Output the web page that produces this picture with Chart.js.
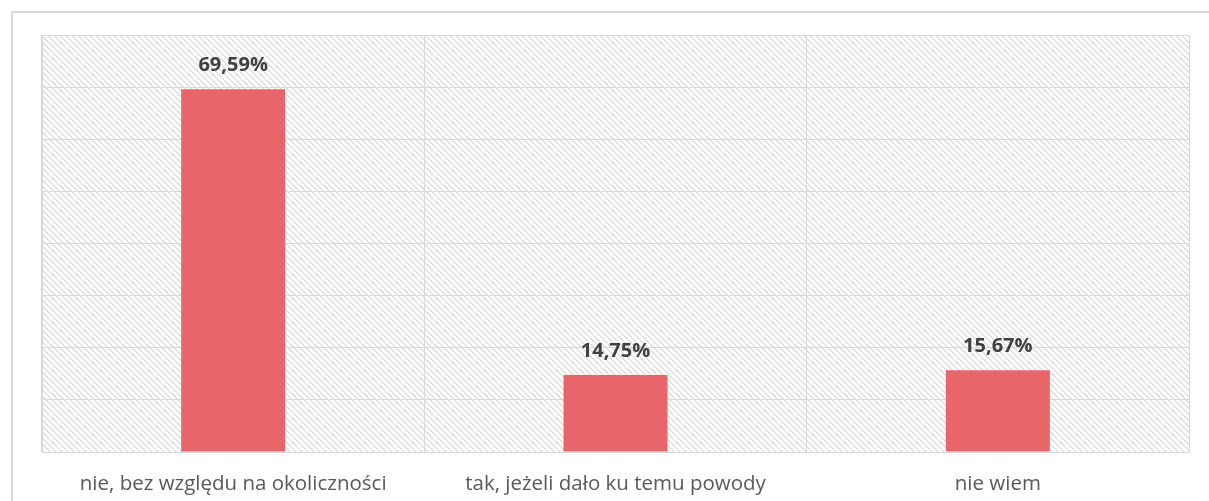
<!DOCTYPE html>
<html>
<head>
<meta charset="utf-8">
<script src="https://cdn.jsdelivr.net/npm/chart.js@4"></script>
<style>
  html, body { margin: 0; padding: 0; background: #fff; }
  #wrap { width: 1209px; height: 501px; }
</style>
</head>
<body>
<div id="wrap"><canvas id="chart" width="1209" height="501"></canvas></div>
<script>
const categories = ['nie, bez względu na okoliczności', 'tak, jeżeli dało ku temu powody', 'nie wiem'];
const percentValues = [69.59, 14.75, 15.67];
const yMax = 80;
const yStep = 10;

// diagonal hatch used behind the bars
function makeHatch() {
    let c = document.createElement('canvas');
    c.width = 6;
    c.height = 6;
    let g = c.getContext('2d');
    g.fillStyle = '#ffffff';
    g.fillRect(0, 0, 6, 6);
    for (let i = 0; i < 6; i++) {
        g.fillStyle = '#d6d6d6';
        g.fillRect(i, i, 1, 1);
        g.fillStyle = '#ececec';
        g.fillRect((i + 1) % 6, i, 1, 1);
    }
    return g.createPattern(c, 'repeat');
}

const backgroundPlugin = {
    id: 'hatchBackground',
    beforeDraw(chart) {
        let ctx = chart.ctx;
        let a = chart.chartArea;
        ctx.save();
        // outer frame
        ctx.strokeStyle = '#d9d9d9';
        ctx.lineWidth = 2;
        ctx.beginPath();
        ctx.moveTo(chart.width, 12);
        ctx.lineTo(12, 12);
        ctx.lineTo(12, chart.height);
        ctx.stroke();
        ctx.fillStyle = makeHatch();
        ctx.fillRect(a.left, a.top, a.right - a.left, a.bottom - a.top);
        ctx.restore();
    }
};

const valueLabels = {
    id: 'valueLabels',
    afterDatasetsDraw(chart) {
        let ctx = chart.ctx;
        let meta = chart.getDatasetMeta(0);
        ctx.save();
        ctx.font = 'bold 20px "Open Sans"';
        ctx.fillStyle = '#404040';
        ctx.textAlign = 'center';
        ctx.textBaseline = 'middle';
        meta.data.forEach((bar, i) => {
            let text = percentValues[i].toFixed(2).replace('.', ',') + '%';
            ctx.fillText(text, bar.x, bar.y - 24);
        });
        ctx.restore();
    }
};

new Chart(document.getElementById('chart'), {
    type: 'bar',
    data: {
        labels: categories,
        datasets: [{
            data: percentValues,
            backgroundColor: '#e8666a',
            borderWidth: 0,
            categoryPercentage: 1,
            barPercentage: 0.272
        }]
    },
    options: {
        responsive: false,
        animation: false,
        layout: { padding: { left: 42, right: 20, top: 35, bottom: 0 } },
        plugins: { legend: { display: false }, tooltip: { enabled: false } },
        scales: {
            x: {
                grid: { color: '#d9d9d9', drawTicks: false, offset: true },
                border: { color: '#d9d9d9' },
                ticks: {
                    color: '#595959',
                    font: { family: 'Open Sans', size: 20.5 },
                    padding: 20
                },
                afterFit(scale) { scale.height = 49; }
            },
            y: {
                min: 0,
                max: yMax,
                ticks: { display: false, stepSize: yStep },
                grid: { color: '#d9d9d9', drawTicks: false },
                border: { color: '#d9d9d9' }
            }
        }
    },
    plugins: [backgroundPlugin, valueLabels]
});
</script>
</body>
</html>
